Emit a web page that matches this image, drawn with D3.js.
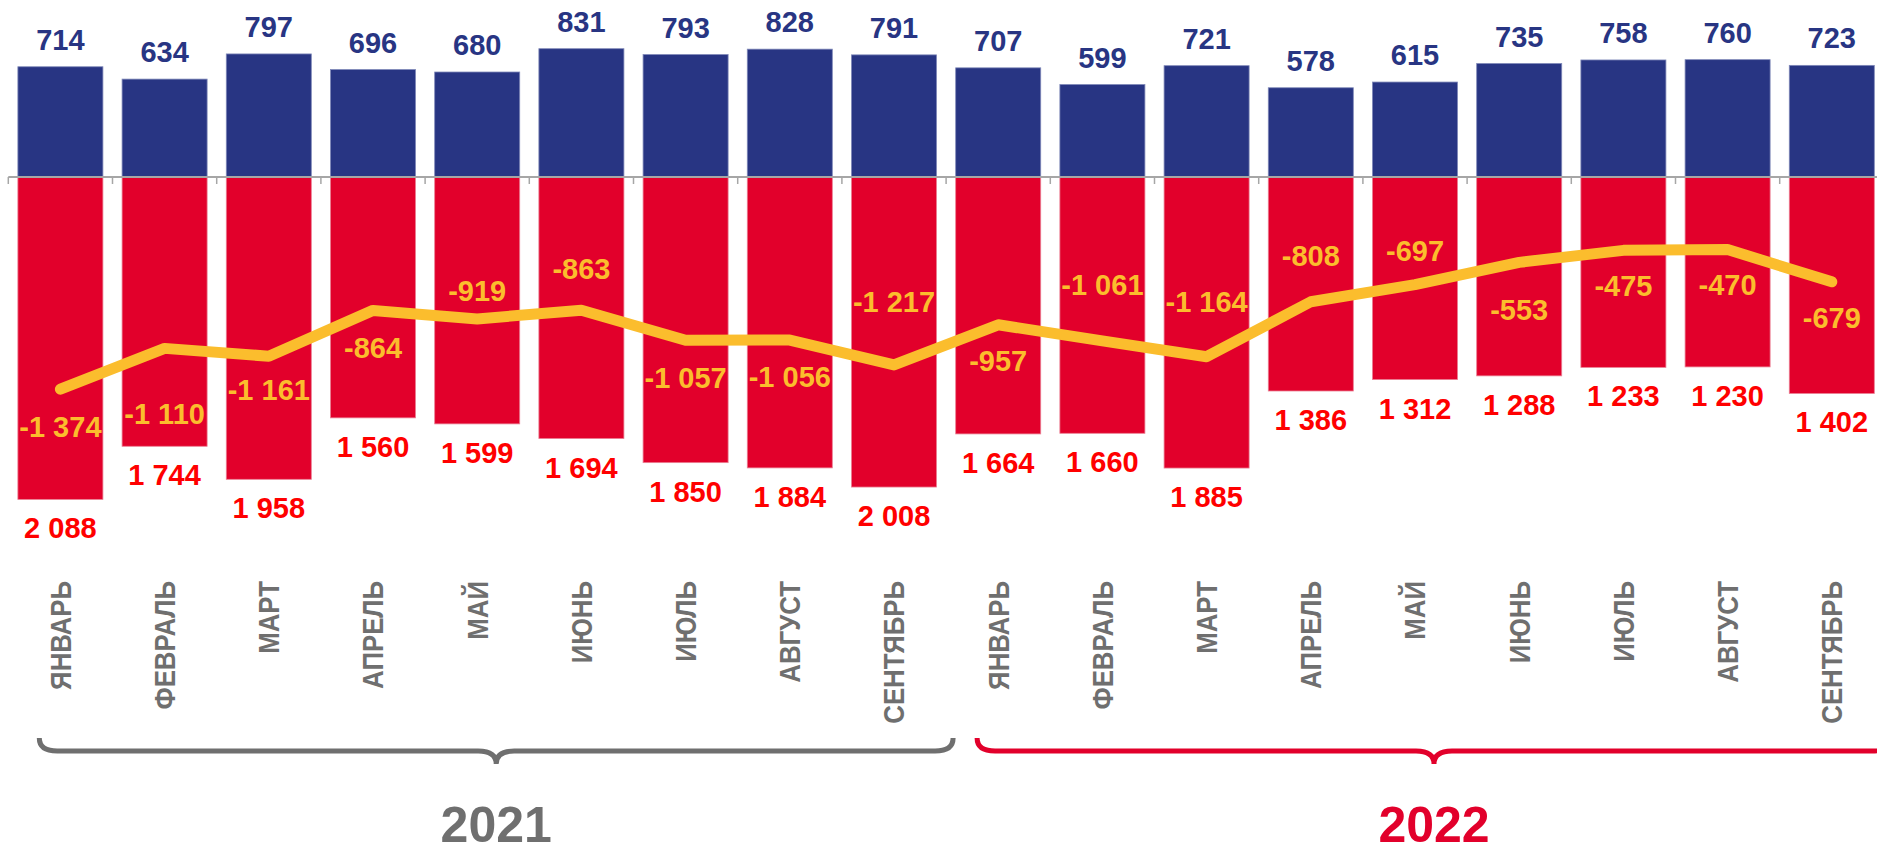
<!DOCTYPE html>
<html lang="ru">

<head>
    <meta charset="UTF-8">
    <title>Экспорт, импорт и сальдо 2021-2022</title>
    <script src="https://d3js.org/d3.v7.min.js"></script>

    <style>
        html, body {
            margin: 0;
            padding: 0;
            background: white;
        }

        svg {
            display: block;
            font-family: "Liberation Sans", Arial, sans-serif;
        }

        .val {
            font-weight: bold;
            text-anchor: middle;
        }

        .month {
            font-weight: bold;
            font-size: 29px;
            fill: #6f6f6f;
        }
    </style>
</head>

<body>
    <div id="chart"></div>

    <script>
        // months, two years
        const months = ["ЯНВАРЬ", "ФЕВРАЛЬ", "МАРТ", "АПРЕЛЬ", "МАЙ", "ИЮНЬ", "ИЮЛЬ", "АВГУСТ", "СЕНТЯБРЬ",
            "ЯНВАРЬ", "ФЕВРАЛЬ", "МАРТ", "АПРЕЛЬ", "МАЙ", "ИЮНЬ", "ИЮЛЬ", "АВГУСТ", "СЕНТЯБРЬ"];
        const years = ["2021", "2022"];
        const yearIndex = [0, 0, 0, 0, 0, 0, 0, 0, 0, 1, 1, 1, 1, 1, 1, 1, 1, 1];

        // blue bars (up), red bars (down), yellow line
        const exportVals = [714, 634, 797, 696, 680, 831, 793, 828, 791, 707, 599, 721, 578, 615, 735, 758, 760, 723];
        const importVals = [2088, 1744, 1958, 1560, 1599, 1694, 1850, 1884, 2008, 1664, 1660, 1885, 1386, 1312, 1288, 1233, 1230, 1402];
        const balanceVals = [-1374, -1110, -1161, -864, -919, -863, -1057, -1056, -1217, -957, -1061, -1164, -808, -697, -553, -475, -470, -679];

        // where the yellow labels sit relative to their point (px, + is below)
        const balanceLabelDy = [37, 65, 33, 37, -28, -42, 37, 37, -63, 36, -56, -55, -46, -34, 47, 35, 35, 36];

        const width = 1877;
        const height = 847;

        const blue = "#283583";
        const red = "#e2002b";
        const redText = "#ff0000";
        const yellow = "#fbbd2d";
        const grey = "#6f6f6f";

        const locale = d3.formatLocale({ decimal: ",", thousands: " ", grouping: [3], currency: ["", ""], minus: "-" });
        const fmt = locale.format(",d");

        const svg = d3.select("#chart")
            .append("svg")
            .attr("width", width)
            .attr("height", height);

        const x = d3.scaleBand()
            .domain(d3.range(months.length))
            .range([8.3, 8.3 + 104.2 * months.length])
            .paddingInner(0.184)
            .paddingOuter(0.092);

        const y = d3.scaleLinear()
            .domain([-2500, 1000])
            .range([563, 22.6]);

        const cx = i => x(i) + x.bandwidth() / 2;
        const gap = x.step() * x.paddingInner() / 2;

        // blue bars
        svg.append("g")
            .selectAll("rect")
            .data(exportVals)
            .join("rect")
            .attr("x", (d, i) => x(i))
            .attr("y", d => y(d))
            .attr("width", x.bandwidth())
            .attr("height", d => y(0) - y(d))
            .attr("fill", blue)
            .attr("stroke", "#7f88b8")
            .attr("stroke-width", 0.8);

        // red bars
        svg.append("g")
            .selectAll("rect")
            .data(importVals)
            .join("rect")
            .attr("x", (d, i) => x(i))
            .attr("y", y(0))
            .attr("width", x.bandwidth())
            .attr("height", d => y(-d) - y(0))
            .attr("fill", red)
            .attr("stroke", "#ea7f93")
            .attr("stroke-width", 0.8);

        // zero axis with little ticks between the bars
        const axis = svg.append("g").attr("stroke", "#a6a6a6");
        axis.append("line")
            .attr("x1", x(0) - gap)
            .attr("x2", width)
            .attr("y1", y(0))
            .attr("y2", y(0))
            .attr("stroke-width", 2);
        axis.selectAll(".tick")
            .data(d3.range(months.length))
            .join("line")
            .attr("class", "tick")
            .attr("x1", i => x(i) - gap)
            .attr("x2", i => x(i) - gap)
            .attr("y1", y(0))
            .attr("y2", y(0) + 7)
            .attr("stroke-width", 1.5);

        // balance line
        const line = d3.line()
            .x((d, i) => cx(i))
            .y(d => y(d));

        svg.append("path")
            .datum(balanceVals)
            .attr("d", line)
            .attr("fill", "none")
            .attr("stroke", yellow)
            .attr("stroke-width", 11)
            .attr("stroke-linejoin", "round")
            .attr("stroke-linecap", "round");

        // value labels
        svg.append("g")
            .selectAll("text")
            .data(exportVals)
            .join("text")
            .attr("class", "val")
            .attr("x", (d, i) => cx(i))
            .attr("y", d => y(d) - 17)
            .attr("fill", blue)
            .style("font-size", "29px")
            .text(d => fmt(d));

        svg.append("g")
            .selectAll("text")
            .data(importVals)
            .join("text")
            .attr("class", "val")
            .attr("x", (d, i) => cx(i))
            .attr("y", d => y(-d) + 39)
            .attr("fill", redText)
            .style("font-size", "29px")
            .text(d => fmt(d));

        svg.append("g")
            .selectAll("text")
            .data(balanceVals)
            .join("text")
            .attr("class", "val")
            .attr("x", (d, i) => cx(i))
            .attr("y", (d, i) => y(d) + balanceLabelDy[i])
            .attr("dy", "0.36em")
            .attr("fill", yellow)
            .style("font-size", "29px")
            .text(d => fmt(d));

        // month names, rotated (a bit squeezed along the text, like the original)
        svg.append("g")
            .selectAll("text")
            .data(months)
            .join("text")
            .attr("class", "month")
            .attr("transform", (d, i) => `translate(${cx(i)},581) rotate(-90) scale(0.89,1)`)
            .attr("dy", "0.36em")
            .attr("text-anchor", "end")
            .text(d => d);

        // year braces
        function bracePath(x1, x2, yTop, yLine, yTip) {
            const m = (x1 + x2) / 2;
            const r = 18;
            return `M${x1},${yTop} Q${x1},${yLine} ${x1 + r},${yLine} L${m - r},${yLine} ` +
                `Q${m},${yLine} ${m},${yTip} Q${m},${yLine} ${m + r},${yLine} ` +
                `L${x2 - r},${yLine} Q${x2},${yLine} ${x2},${yTop}`;
        }

        const yearColors = [grey, red];

        years.forEach((yr, k) => {
            const idx = d3.range(months.length).filter(i => yearIndex[i] === k);
            const first = idx[0];
            const last = idx[idx.length - 1];
            const x1 = x(first) - gap + 31;
            const x2 = x(last) + x.bandwidth() + gap + 7;

            svg.append("path")
                .attr("d", bracePath(x1, x2, 738, 751, 764))
                .attr("fill", "none")
                .attr("stroke", yearColors[k])
                .attr("stroke-width", 5);

            svg.append("text")
                .attr("x", (x1 + x2) / 2)
                .attr("y", 842)
                .attr("text-anchor", "middle")
                .attr("fill", yearColors[k])
                .style("font-size", "50px")
                .style("font-weight", "bold")
                .text(yr);
        });
    </script>
</body>

</html>
